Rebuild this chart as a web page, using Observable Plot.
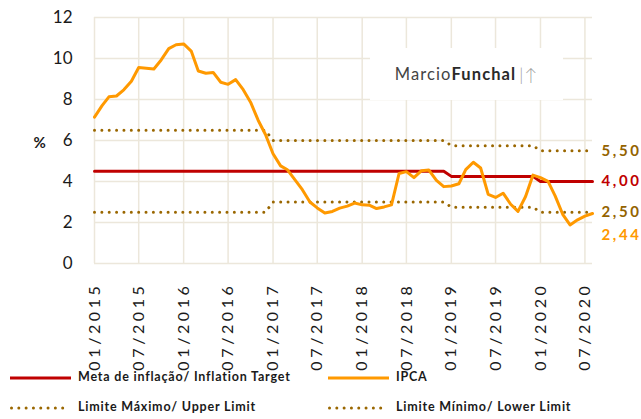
<!DOCTYPE html>
<html>
<head>
<meta charset="utf-8">
<script src="https://cdn.jsdelivr.net/npm/d3@7"></script>
<script src="https://cdn.jsdelivr.net/npm/@observablehq/plot@0.6"></script>
<style>
  html, body { margin: 0; padding: 0; background: #fff; }
  #wrap { position: relative; width: 641px; height: 419px; font-family: Lato, "Open Sans", sans-serif; }
  #chart svg { display: block; }
  #chart g[aria-label="x-axis tick label"] text { letter-spacing: 3.6px; }
  #chart g[aria-label="text"] text { letter-spacing: 2.6px; }
  .leg { position: absolute; font-size: 12.5px; font-weight: 700; color: #1a1a1a; letter-spacing: 0.8px; white-space: nowrap; }
  .sw { position: absolute; }
  #logo { position: absolute; left: 370px; top: 48px; width: 193px; height: 52px; background: #fff;
          display: flex; align-items: center; justify-content: center; font-size: 16.5px; color: #444; letter-spacing: 1.1px; }
  #logo b { color: #2a2a2a; }
  #logo span.ic { color: #999; font-weight: 300; margin-left: 3px; font-size: 17px; }
</style>
</head>
<body>
<div id="wrap">
  <div id="chart"></div>
  <div id="logo">Marcio<b>Funchal</b><span class="ic">|↑</span></div>
</div>
<script>
const months = [
  "2015-01","2015-02","2015-03","2015-04","2015-05","2015-06","2015-07","2015-08","2015-09","2015-10","2015-11","2015-12",
  "2016-01","2016-02","2016-03","2016-04","2016-05","2016-06","2016-07","2016-08","2016-09","2016-10","2016-11","2016-12",
  "2017-01","2017-02","2017-03","2017-04","2017-05","2017-06","2017-07","2017-08","2017-09","2017-10","2017-11","2017-12",
  "2018-01","2018-02","2018-03","2018-04","2018-05","2018-06","2018-07","2018-08","2018-09","2018-10","2018-11","2018-12",
  "2019-01","2019-02","2019-03","2019-04","2019-05","2019-06","2019-07","2019-08","2019-09","2019-10","2019-11","2019-12",
  "2020-01","2020-02","2020-03","2020-04","2020-05","2020-06","2020-07","2020-08"
];
const ipca = [
  7.14, 7.70, 8.13, 8.17, 8.47, 8.89, 9.56, 9.53, 9.49, 9.93, 10.48, 10.67,
  10.71, 10.36, 9.39, 9.28, 9.32, 8.84, 8.74, 8.97, 8.48, 7.87, 6.99, 6.29,
  5.35, 4.76, 4.57, 4.08, 3.60, 3.00, 2.71, 2.46, 2.54, 2.70, 2.80, 2.95,
  2.86, 2.84, 2.68, 2.76, 2.86, 4.39, 4.48, 4.19, 4.53, 4.56, 4.05, 3.75,
  3.78, 3.89, 4.58, 4.94, 4.66, 3.37, 3.22, 3.43, 2.89, 2.54, 3.27, 4.31,
  4.19, 4.01, 3.30, 2.40, 1.88, 2.13, 2.31, 2.44
];
const meta = [
  4.5,4.5,4.5,4.5,4.5,4.5,4.5,4.5,4.5,4.5,4.5,4.5,
  4.5,4.5,4.5,4.5,4.5,4.5,4.5,4.5,4.5,4.5,4.5,4.5,
  4.5,4.5,4.5,4.5,4.5,4.5,4.5,4.5,4.5,4.5,4.5,4.5,
  4.5,4.5,4.5,4.5,4.5,4.5,4.5,4.5,4.5,4.5,4.5,4.5,
  4.25,4.25,4.25,4.25,4.25,4.25,4.25,4.25,4.25,4.25,4.25,4.25,
  4.0,4.0,4.0,4.0,4.0,4.0,4.0,4.0
];
const upper = [
  6.5,6.5,6.5,6.5,6.5,6.5,6.5,6.5,6.5,6.5,6.5,6.5,
  6.5,6.5,6.5,6.5,6.5,6.5,6.5,6.5,6.5,6.5,6.5,6.5,
  6.0,6.0,6.0,6.0,6.0,6.0,6.0,6.0,6.0,6.0,6.0,6.0,
  6.0,6.0,6.0,6.0,6.0,6.0,6.0,6.0,6.0,6.0,6.0,6.0,
  5.75,5.75,5.75,5.75,5.75,5.75,5.75,5.75,5.75,5.75,5.75,5.75,
  5.5,5.5,5.5,5.5,5.5,5.5,5.5,5.5
];
const lower = [
  2.5,2.5,2.5,2.5,2.5,2.5,2.5,2.5,2.5,2.5,2.5,2.5,
  2.5,2.5,2.5,2.5,2.5,2.5,2.5,2.5,2.5,2.5,2.5,2.5,
  3.0,3.0,3.0,3.0,3.0,3.0,3.0,3.0,3.0,3.0,3.0,3.0,
  3.0,3.0,3.0,3.0,3.0,3.0,3.0,3.0,3.0,3.0,3.0,3.0,
  2.75,2.75,2.75,2.75,2.75,2.75,2.75,2.75,2.75,2.75,2.75,2.75,
  2.5,2.5,2.5,2.5,2.5,2.5,2.5,2.5
];
const xTickMonths = ["2015-01","2015-07","2016-01","2016-07","2017-01","2017-07","2018-01","2018-07","2019-01","2019-07","2020-01","2020-07"];
const xTickLabels = ["01/2015","07/2015","01/2016","07/2016","01/2017","07/2017","01/2018","07/2018","01/2019","07/2019","01/2020","07/2020"];
const yTicks = [0, 2, 4, 6, 8, 10, 12];
const legendLabels = ["Meta de inflação/ Inflation Target", "IPCA", "Limite Máximo/ Upper Limit", "Limite Mínimo/ Lower Limit"];

const colors = { ipca: "#FF9900", meta: "#C00000", band: "#9A6700", bandText: "#946300" };
const parse = d3.utcParse("%Y-%m");
const rows = months.map((m, i) => ({ date: parse(m), ipca: ipca[i], meta: meta[i], upper: upper[i], lower: lower[i] }));
const xTicks = xTickMonths.map(parse);
const labelOf = new Map(xTicks.map((d, i) => [+d, xTickLabels[i]]));
const fmt = v => d3.format(".2f")(v).replace(".", ",");
const font = "Lato, 'Open Sans', sans-serif";
const gridColor = "#ECE7DB";
const dots = { strokeDasharray: "0.01 7.35", strokeLinecap: "round", strokeWidth: 3, stroke: colors.band };

const chart = Plot.plot({
  width: 641,
  height: 368,
  marginTop: 17,
  marginBottom: 105,
  marginLeft: 94,
  marginRight: 49,
  style: { fontFamily: font, background: "#fff", overflow: "visible" },
  x: { type: "utc", domain: [parse(months[0]), parse(months[months.length - 1])] },
  y: { domain: [0, 12] },
  marks: [
    Plot.gridX(xTicks, { stroke: gridColor, strokeOpacity: 1, strokeWidth: 1.5 }),
    Plot.gridY(yTicks, { stroke: gridColor, strokeOpacity: 1, strokeWidth: 1.5 }),
    Plot.axisX(xTicks, { tickFormat: d => labelOf.get(+d), tickRotate: -90, tickSize: 0, tickPadding: 19, fontSize: 16, fill: "#1a1a1a", label: null }),
    Plot.axisY(yTicks, { tickSize: 0, tickPadding: 22, fontSize: 17, fill: "#1a1a1a", label: null }),
    Plot.text(["%"], { frameAnchor: "left", dx: -61, dy: 3, fontSize: 15, fontWeight: "bold", fill: "#1a1a1a" }),
    Plot.line(rows, { x: "date", y: "upper", ...dots }),
    Plot.line(rows, { x: "date", y: "lower", ...dots }),
    Plot.line(rows, { x: "date", y: "meta", stroke: colors.meta, strokeWidth: 3 }),
    Plot.line(rows, { x: "date", y: "ipca", stroke: colors.ipca, strokeWidth: 3, strokeLinejoin: "round" }),
    Plot.text(rows, Plot.selectLast({ x: "date", y: "upper", text: d => fmt(d.upper), textAnchor: "start", dx: 9, fill: colors.bandText, fontSize: 15, fontWeight: "bold" })),
    Plot.text(rows, Plot.selectLast({ x: "date", y: "meta", text: d => fmt(d.meta), textAnchor: "start", dx: 9, fill: colors.meta, fontSize: 15, fontWeight: "bold" })),
    Plot.text(rows, Plot.selectLast({ x: "date", y: "lower", text: d => fmt(d.lower), textAnchor: "start", dx: 9, fill: colors.bandText, fontSize: 15, fontWeight: "bold" })),
    Plot.text(rows, Plot.selectLast({ x: "date", y: "ipca", text: d => fmt(d.ipca), textAnchor: "start", dx: 9, dy: 22, fill: colors.ipca, fontSize: 15, fontWeight: "bold" }))
  ]
});
document.getElementById("chart").appendChild(chart);

// Legend
const wrap = document.getElementById("wrap");
const legendItems = [
  { label: legendLabels[0], x: 10, y: 378, kind: "solid", color: colors.meta },
  { label: legendLabels[1], x: 328, y: 378, kind: "solid", color: colors.ipca },
  { label: legendLabels[2], x: 10, y: 408, kind: "dots", color: colors.band },
  { label: legendLabels[3], x: 328, y: 408, kind: "dots", color: colors.band }
];
for (const it of legendItems) {
  const sw = document.createElementNS("http://www.w3.org/2000/svg", "svg");
  sw.setAttribute("width", 64); sw.setAttribute("height", 8);
  sw.setAttribute("class", "sw");
  sw.style.left = it.x + "px"; sw.style.top = (it.y - 4) + "px";
  const ln = document.createElementNS("http://www.w3.org/2000/svg", "line");
  ln.setAttribute("y1", 4); ln.setAttribute("y2", 4);
  if (it.kind === "solid") {
    ln.setAttribute("x1", 0); ln.setAttribute("x2", 61);
    ln.setAttribute("stroke", it.color); ln.setAttribute("stroke-width", 3);
  } else {
    ln.setAttribute("x1", 1.5); ln.setAttribute("x2", 53);
    ln.setAttribute("stroke", it.color); ln.setAttribute("stroke-width", 3);
    ln.setAttribute("stroke-dasharray", "0.01 7.3"); ln.setAttribute("stroke-linecap", "round");
  }
  sw.appendChild(ln);
  wrap.appendChild(sw);
  const t = document.createElement("div");
  t.className = "leg";
  t.textContent = it.label;
  t.style.left = (it.x + 68) + "px";
  t.style.top = (it.y - 9) + "px";
  wrap.appendChild(t);
}
</script>
</body>
</html>
